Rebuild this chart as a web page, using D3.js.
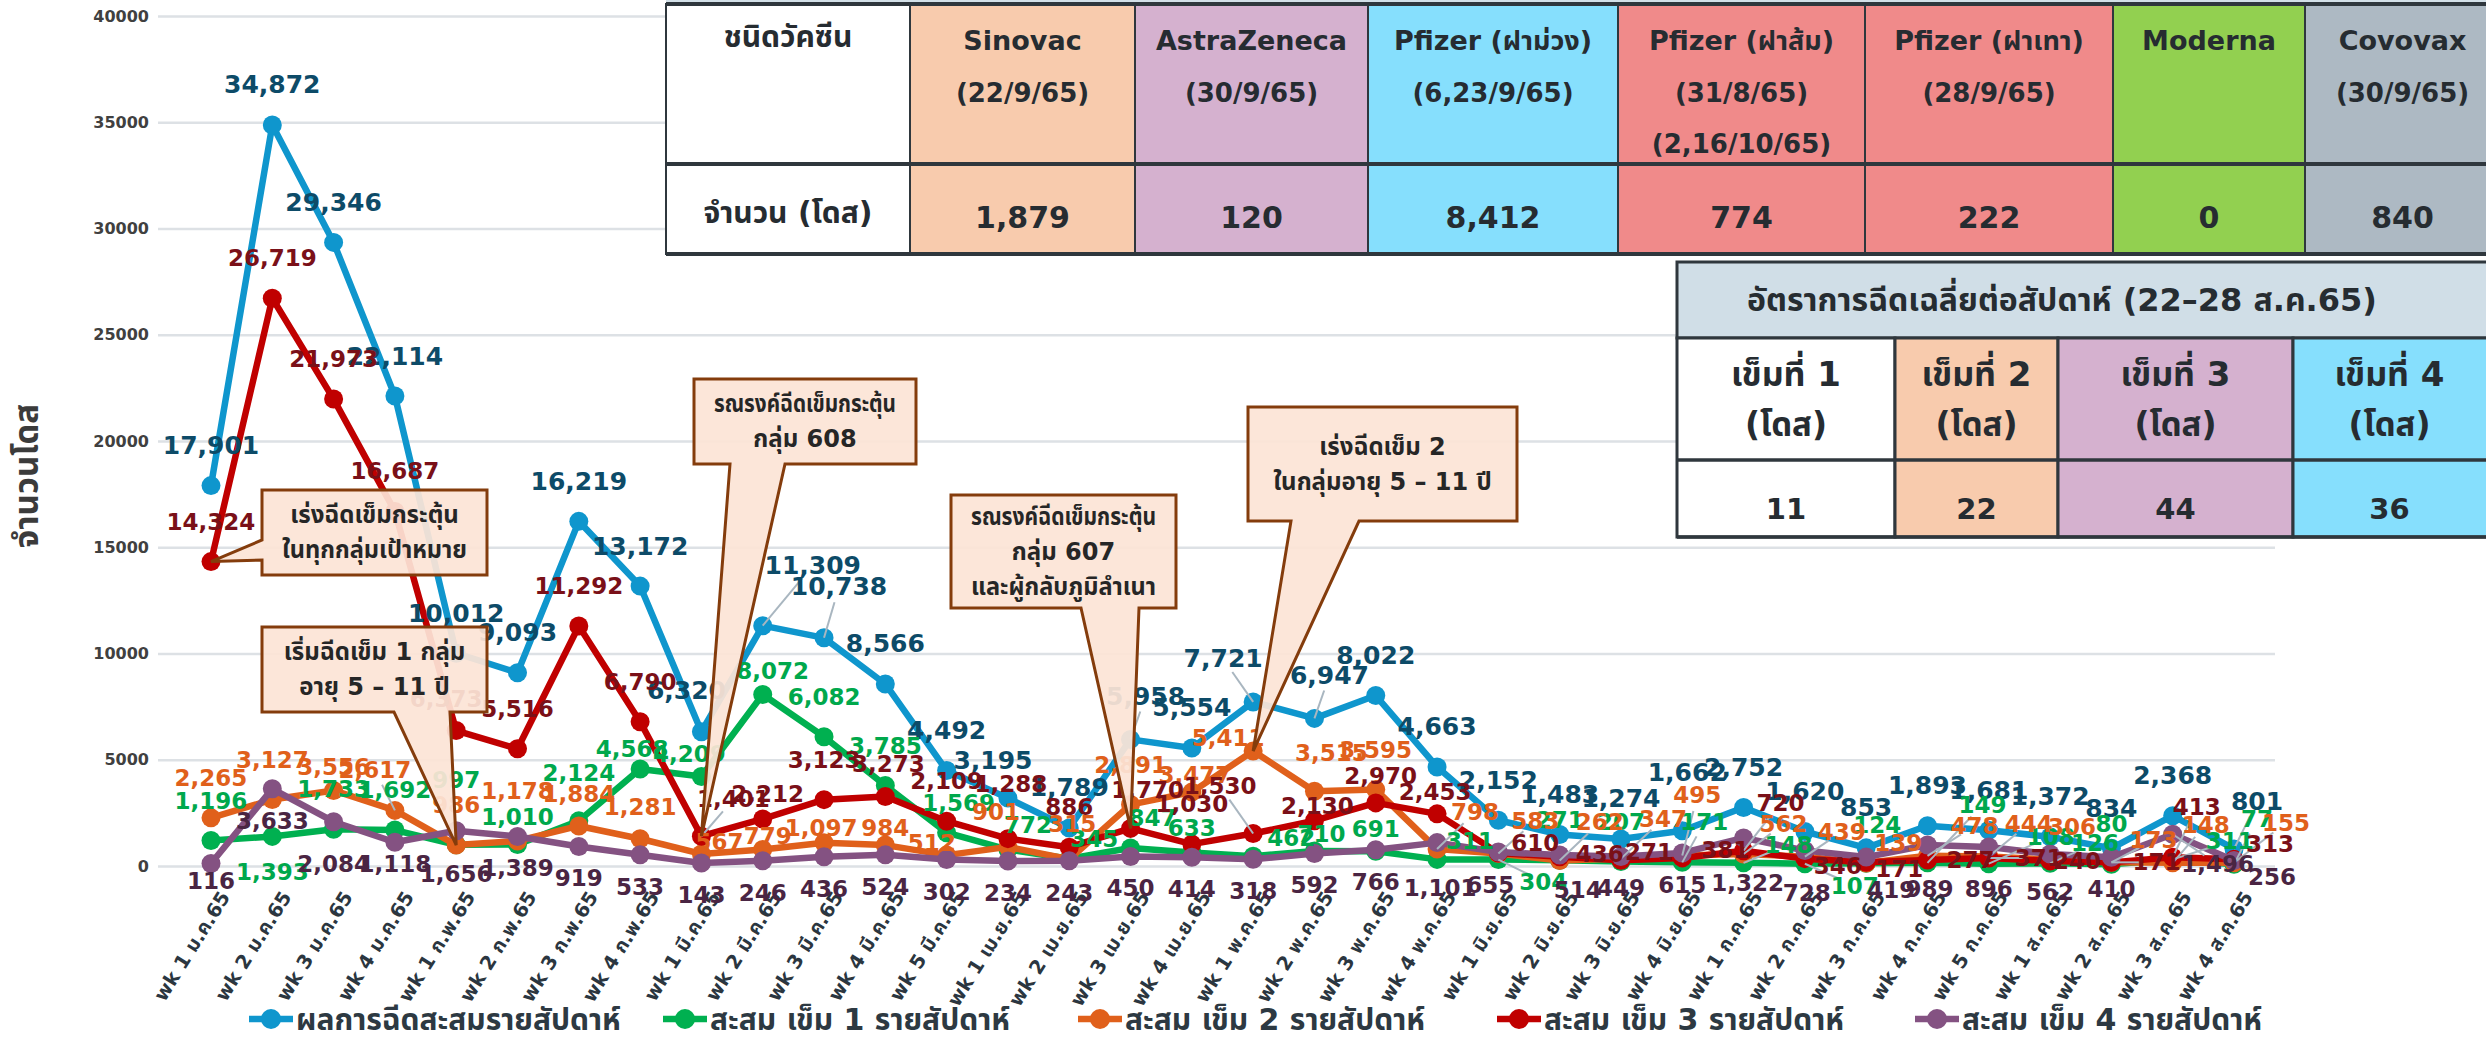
<!DOCTYPE html>
<html>
<head>
<meta charset="utf-8">
<script src="https://cdn.jsdelivr.net/npm/d3@7"></script>
<style>
  html, body { margin: 0; padding: 0; background: #fff; overflow: hidden; }
  svg { display: block; }
  text { font-family: 'DejaVu Sans', 'Noto Sans Thai', 'Noto Sans', sans-serif; font-weight: bold; }
</style>
</head>
<body>
<div id="chart-div"></div>
<script>
const WIDTH = 2486;
const HEIGHT = 1038;

// ---- data ----
const WEEKS = [
  'wk 1 ม.ค.65', 'wk 2 ม.ค.65', 'wk 3 ม.ค.65', 'wk 4 ม.ค.65',
  'wk 1 ก.พ.65', 'wk 2 ก.พ.65', 'wk 3 ก.พ.65', 'wk 4 ก.พ.65',
  'wk 1 มี.ค.65', 'wk 2 มี.ค.65', 'wk 3 มี.ค.65', 'wk 4 มี.ค.65', 'wk 5 มี.ค.65',
  'wk 1 เม.ย.65', 'wk 2 เม.ย.65', 'wk 3 เม.ย.65', 'wk 4 เม.ย.65',
  'wk 1 พ.ค.65', 'wk 2 พ.ค.65', 'wk 3 พ.ค.65', 'wk 4 พ.ค.65',
  'wk 1 มิ.ย.65', 'wk 2 มิ.ย.65', 'wk 3 มิ.ย.65', 'wk 4 มิ.ย.65',
  'wk 1 ก.ค.65', 'wk 2 ก.ค.65', 'wk 3 ก.ค.65', 'wk 4 ก.ค.65', 'wk 5 ก.ค.65',
  'wk 1 ส.ค.65', 'wk 2 ส.ค.65', 'wk 3 ส.ค.65', 'wk 4 ส.ค.65'
];

const TOTAL_WEEKLY = [17901, 34872, 29346, 22114, 10012, 9093, 16219, 13172, 6320, 11309, 10738, 8566, 4492,
  3195, 1789, 5958, 5554, 7721, 6947, 8022, 4663, 2152, 1483, 1274, 1662, 2752, 1620, 853, 1893, 1681,
  1372, 834, 2368, 801];
const DOSE1_WEEKLY = [1196, 1393, 1733, 1692, 997, 1010, 2124, 4568, 4209, 8072, 6082, 3785, 1569,
  772, 345, 847, 633, 462, 710, 691, 311, 304, 271, 207, 171, 148, 107, 124, 149, 108,
  126, 80, 311, 77];
const DOSE2_WEEKLY = [2265, 3127, 3556, 2617, 986, 1178, 1884, 1281, 567, 779, 1097, 984, 512,
  901, 315, 2891, 3477, 5411, 3515, 3595, 798, 583, 262, 347, 495, 562, 439, 139, 478, 444,
  306, 173, 148, 155];
const DOSE3_WEEKLY = [14324, 26719, 21973, 16687, 6373, 5516, 11292, 6790, 1401, 2212, 3123, 3273, 2109,
  1288, 886, 1770, 1030, 1530, 2130, 2970, 2453, 610, 436, 271, 381, 720, 346, 171, 277, 371,
  240, 171, 413, 313];
const DOSE4_WEEKLY = [116, 3633, 2084, 1118, 1656, 1389, 919, 533, 143, 246, 436, 524, 302,
  234, 243, 450, 414, 318, 592, 766, 1101, 655, 514, 449, 615, 1322, 728, 419, 989, 896,
  562, 410, 1496, 256];

const LEGEND_NAMES = [
  'ผลการฉีดสะสมรายสัปดาห์',
  'สะสม เข็ม 1 รายสัปดาห์',
  'สะสม เข็ม 2 รายสัปดาห์',
  'สะสม เข็ม 3 รายสัปดาห์',
  'สะสม เข็ม 4 รายสัปดาห์'
];

const Y_TICKS = [0, 5000, 10000, 15000, 20000, 25000, 30000, 35000, 40000];
const Y_TITLE = 'จำนวนโดส';

const VACCINE_HEAD = 'ชนิดวัคซีน';
const VACCINE_COUNT_HEAD = 'จำนวน (โดส)';
const VACCINE_NAMES = ['Sinovac', 'AstraZeneca', 'Pfizer (ฝาม่วง)', 'Pfizer (ฝาส้ม)', 'Pfizer (ฝาเทา)', 'Moderna', 'Covovax'];
const VACCINE_DATES = [['(22/9/65)'], ['(30/9/65)'], ['(6,23/9/65)'], ['(31/8/65)', '(2,16/10/65)'], ['(28/9/65)'], [], ['(30/9/65)']];
const VACCINE_DOSES = [1879, 120, 8412, 774, 222, 0, 840];

const RATE_TITLE = 'อัตราการฉีดเฉลี่ยต่อสัปดาห์ (22–28 ส.ค.65)';
const RATE_HEADS = ['เข็มที่ 1', 'เข็มที่ 2', 'เข็มที่ 3', 'เข็มที่ 4'];
const RATE_UNIT = '(โดส)';
const RATE_VALUES = [11, 22, 44, 36];

const CALLOUT_TEXTS = [
  ['เร่งฉีดเข็มกระตุ้น', 'ในทุกกลุ่มเป้าหมาย'],
  ['เริ่มฉีดเข็ม 1 กลุ่ม', 'อายุ 5 – 11 ปี'],
  ['รณรงค์ฉีดเข็มกระตุ้น', 'กลุ่ม 608'],
  ['รณรงค์ฉีดเข็มกระตุ้น', 'กลุ่ม 607', 'และผู้กลับภูมิลำเนา'],
  ['เร่งฉีดเข็ม 2', 'ในกลุ่มอายุ 5 – 11 ปี']
];

// ---- layout ----
const PLOT = { x0: 211, x1: 2234, yBottom: 866, yTop: 16, gridLeft: 158, gridRight: 2275 };
const COLORS = {
  total: { line: '#0f96cd', label: '#0d4b68' },
  dose1: { line: '#00b050', label: '#00a84c' },
  dose2: { line: '#e0601b', label: '#e0601b' },
  dose3: { line: '#c00000', label: '#7a1018' },
  dose4: { line: '#845282', label: '#4a2543' }
};

// label centre offsets from a point, [dx, dy]; anything not listed uses the series default
const LABEL_OFFSETS = {
  total: { 8: [-15, -41], 9: [50, -60], 10: [15, -51], 13: [-15, -38], 15: [15, -43], 17: [-30, -43],
    18: [15, -43], 24: [5, -58], 33: [23, -47] },
  dose1: { 1: [0, 36], 4: [0, -65], 5: [0, -28], 6: [0, -48], 7: [-8, -20], 8: [-12, -23], 9: [10, -23],
    12: [12, -30], 13: [20, -25], 14: [25, -20], 15: [22, -30], 16: [0, -25], 17: [38, -18], 18: [7, -17],
    19: [0, -22], 20: [33, -18], 21: [45, 22], 24: [22, -40], 25: [45, -18], 26: [50, 22], 27: [11, -38],
    28: [55, -58], 29: [62, -27], 30: [45, -20], 32: [57, -18], 33: [23, -45] },
  dose2: { 2: [0, -23], 3: [-20, -40], 5: [0, -50], 6: [0, -32], 7: [0, -32], 8: [18, -12], 9: [5, -13],
    10: [-3, -15], 11: [0, -17], 12: [-15, -12], 13: [-12, -35], 14: [3, -35], 16: [3, -17], 17: [-25, -13],
    18: [17, -38], 20: [38, -37], 21: [37, -33], 22: [40, -38], 23: [42, -40], 24: [15, -60], 25: [40, -30],
    26: [37, -25], 27: [32, -20], 28: [47, -30], 29: [40, -33], 30: [22, -32], 31: [42, -22], 32: [33, -38],
    33: [52, -40] },
  dose3: { 4: [-10, -32], 8: [32, -37], 9: [5, -25], 11: [3, -32], 13: [3, -55], 15: [17, -38], 17: [-33, -47],
    18: [3, -15], 19: [5, -27], 20: [-2, -22], 21: [37, -10], 22: [40, -3], 23: [28, -8], 24: [43, -8],
    25: [37, -48], 26: [33, 7], 27: [33, 7], 28: [43, 0], 29: [50, 0], 30: [27, 0], 31: [45, 0],
    32: [24, -50], 33: [36, -15] },
  dose4: { 0: [0, 17], 2: [0, 42], 3: [0, 22], 4: [0, 43], 20: [3, 45], 21: [-8, 33], 22: [18, 35],
    25: [4, 45], 26: [2, 42], 27: [25, 33], 28: [2, 44], 29: [0, 42], 30: [0, 38], 32: [45, 30], 33: [38, 16] }
};

// box [x, y, w, h], wedge base on one edge, tip on a series point
const CALLOUT_LAYOUT = [
  { box: [262, 490, 225, 85], edge: 'left', base: [540, 560], series: 'dose3', index: 0 },
  { box: [262, 627, 225, 85], edge: 'bottom', base: [394, 450], series: 'dose2', index: 4 },
  { box: [694, 379, 222, 85], edge: 'bottom', base: [730, 785], series: 'dose3', index: 8 },
  { box: [951, 495, 225, 113], edge: 'bottom', base: [1081, 1139], series: 'dose3', index: 15 },
  { box: [1248, 407, 269, 114], edge: 'bottom', base: [1291, 1359], series: 'dose2', index: 17 }
];

const TABLE1 = { cols: [666, 910, 1135, 1368, 1618, 1865, 2113, 2305, 2500], top: 4, split: 164, bottom: 254 };
const TABLE1_FILLS = ['#ffffff', '#f8cbad', '#d5b1cf', '#86dffd', '#f08a8a', '#f08a8a', '#92d050', '#adb9c3'];
const TABLE2 = { cols: [1677, 1895, 2058, 2293, 2500], top: 262, titleBottom: 338, split: 460, bottom: 537 };
const TABLE2_FILLS = ['#ffffff', '#f8cbad', '#d5b1cf', '#86dffd'];
const LEGEND_X = [271, 685, 1100, 1519, 1937];
const LEGEND_Y = 1019;

class VaccineChart {

  constructor() {
    this.series = [
      { key: 'total', values: TOTAL_WEEKLY, name: LEGEND_NAMES[0] },
      { key: 'dose1', values: DOSE1_WEEKLY, name: LEGEND_NAMES[1] },
      { key: 'dose2', values: DOSE2_WEEKLY, name: LEGEND_NAMES[2] },
      { key: 'dose3', values: DOSE3_WEEKLY, name: LEGEND_NAMES[3] },
      { key: 'dose4', values: DOSE4_WEEKLY, name: LEGEND_NAMES[4] }
    ];

    this.svg = d3.select('#chart-div')
      .append('svg')
      .attr('width', WIDTH)
      .attr('height', HEIGHT);

    this.xScale = d3.scalePoint()
      .domain(WEEKS)
      .range([PLOT.x0, PLOT.x1]);

    this.yScale = d3.scaleLinear()
      .domain([0, 40000])
      .range([PLOT.yBottom, PLOT.yTop]);

    this.drawYAxis();
    this.drawXAxis();
    this.drawLines();
    this.drawLabels();
    this.drawCallouts();
    this.drawVaccineTable();
    this.drawRateTable();
    this.drawLegend();
  }

  drawYAxis() {

    const axis = d3.axisLeft(this.yScale)
      .tickValues(Y_TICKS)
      .tickSize(-(PLOT.gridRight - PLOT.gridLeft))
      .tickPadding(9)
      .tickFormat(d3.format('d'));

    this.svg.append('g')
      .attr('transform', `translate(${PLOT.gridLeft},0)`)
      .call(axis)
      .call(g => g.select('.domain').remove())
      .call(g => g.selectAll('.tick line').attr('stroke', '#dde1e5').attr('stroke-width', 2.5))
      .call(g => g.selectAll('.tick text')
        .attr('fill', '#404040')
        .style('font-size', '16px'));

    this.svg.append('text')
      .attr('transform', 'translate(26,476) rotate(-90)')
      .attr('text-anchor', 'middle')
      .attr('dominant-baseline', 'central')
      .attr('fill', '#3b3b3b')
      .style('font-size', '33px')
      .text(Y_TITLE);

  }

  drawXAxis() {

    this.svg.append('g')
      .attr('id', 'x-labels')
      .selectAll('text')
      .data(WEEKS)
      .join('text')
      .attr('transform', d => `translate(${this.xScale(d) + 14},${PLOT.yBottom + 27}) rotate(-58)`)
      .attr('text-anchor', 'end')
      .attr('dy', '0.35em')
      .attr('fill', '#2b3640')
      .style('font-size', '19.5px')
      .text(d => d);

  }

  drawLines() {

    const line = d3.line()
      .x((d, i) => this.xScale(WEEKS[i]))
      .y(d => this.yScale(d));

    const groups = this.svg.append('g')
      .attr('id', 'series')
      .selectAll('g')
      .data(this.series)
      .join('g');

    groups.append('path')
      .attr('d', d => line(d.values))
      .attr('fill', 'none')
      .attr('stroke', d => COLORS[d.key].line)
      .attr('stroke-width', 6.5)
      .attr('stroke-linejoin', 'round');

    groups.selectAll('circle')
      .data(d => d.values.map((v, i) => ({ v, i, key: d.key })))
      .join('circle')
      .attr('cx', d => this.xScale(WEEKS[d.i]))
      .attr('cy', d => this.yScale(d.v))
      .attr('r', 9.5)
      .attr('fill', d => COLORS[d.key].line);

  }

  labelPos(key, i, v) {
    const fallback = key === 'dose4' ? [0, 32] : [0, -40];
    const [dx, dy] = (LABEL_OFFSETS[key] && LABEL_OFFSETS[key][i]) || fallback;
    const px = this.xScale(WEEKS[i]);
    const py = this.yScale(v);
    return { px, py, lx: px + dx, ly: py + dy, dx, dy };
  }

  drawLabels() {

    const labels = [];
    this.series.forEach(s => {
      s.values.forEach((v, i) => labels.push({ key: s.key, v, ...this.labelPos(s.key, i, v) }));
    });

    // grey leader lines for labels pulled away from their point
    const leaders = labels.filter(d => Math.hypot(d.dx, d.dy) > 44 && Math.abs(d.dx) > 12);
    this.svg.append('g')
      .attr('id', 'leaders')
      .selectAll('line')
      .data(leaders)
      .join('line')
      .attr('x1', d => d.px)
      .attr('y1', d => d.py)
      .attr('x2', d => { const k = (Math.hypot(d.dx, d.dy) - 16) / Math.hypot(d.dx, d.dy); return d.px + d.dx * k; })
      .attr('y2', d => { const k = (Math.hypot(d.dx, d.dy) - 16) / Math.hypot(d.dx, d.dy); return d.py + d.dy * k; })
      .attr('stroke', '#a9b6c0')
      .attr('stroke-width', 2);

    this.svg.append('g')
      .attr('id', 'data-labels')
      .selectAll('text')
      .data(labels)
      .join('text')
      .attr('x', d => d.lx)
      .attr('y', d => d.ly)
      .attr('text-anchor', 'middle')
      .attr('dominant-baseline', 'central')
      .attr('fill', d => COLORS[d.key].label)
      .style('font-size', d => d.key === 'total' ? '25px' : '23px')
      .text(d => d3.format(',')(d.v));

  }

  calloutPath(c, tip) {
    const [x, y, w, h] = c.box;
    const [b1, b2] = c.base;
    if (c.edge === 'left') {
      return `M${x},${y}H${x + w}V${y + h}H${x}V${b2}L${tip[0]},${tip[1]}L${x},${b1}Z`;
    }
    return `M${x},${y}H${x + w}V${y + h}H${b2}L${tip[0]},${tip[1]}L${b1},${y + h}H${x}Z`;
  }

  drawCallouts() {

    const seriesByKey = {};
    this.series.forEach(s => { seriesByKey[s.key] = s; });

    const g = this.svg.append('g')
      .attr('id', 'callouts')
      .selectAll('g')
      .data(CALLOUT_LAYOUT)
      .join('g');

    g.append('path')
      .attr('d', c => {
        const v = seriesByKey[c.series].values[c.index];
        return this.calloutPath(c, [this.xScale(WEEKS[c.index]), this.yScale(v)]);
      })
      .attr('fill', '#fce4d6')
      .attr('fill-opacity', 0.93)
      .attr('stroke', '#843c0c')
      .attr('stroke-width', 3)
      .attr('stroke-linejoin', 'miter');

    g.each(function (c, ci) {
      const lines = CALLOUT_TEXTS[ci];
      const [x, y, w, h] = c.box;
      const step = 35;
      const start = y + h / 2 - (lines.length - 1) * step / 2;
      d3.select(this).selectAll('text')
        .data(lines)
        .join('text')
        .attr('x', x + w / 2)
        .attr('y', (d, i) => start + i * step)
        .attr('text-anchor', 'middle')
        .attr('dominant-baseline', 'central')
        .attr('fill', '#262626')
        .style('font-size', '24px')
        .text(d => d)
        .each(function () {
          // squeeze lines that are wider than the box, as the narrow source font would be
          const maxW = w - 40;
          if (this.getComputedTextLength() > maxW) {
            d3.select(this).attr('textLength', maxW).attr('lengthAdjust', 'spacingAndGlyphs');
          }
        });
    });

  }

  drawVaccineTable() {

    const t = TABLE1;
    const g = this.svg.append('g').attr('id', 'vaccine-table');

    g.append('rect')
      .attr('x', t.cols[0])
      .attr('y', -40)
      .attr('width', t.cols[t.cols.length - 1] - t.cols[0])
      .attr('height', 44)
      .attr('fill', '#d3e0e8');

    const cells = TABLE1_FILLS.map((fill, i) => ({ fill, x0: t.cols[i], x1: t.cols[i + 1] }));

    g.selectAll('rect.cell')
      .data(cells)
      .join('rect')
      .attr('class', 'cell')
      .attr('x', d => d.x0)
      .attr('y', t.top)
      .attr('width', d => d.x1 - d.x0)
      .attr('height', t.bottom - t.top)
      .attr('fill', d => d.fill)
      .attr('stroke', '#2f373d')
      .attr('stroke-width', 2);

    [t.top, t.split, t.bottom].forEach(yy => {
      g.append('line')
        .attr('x1', t.cols[0]).attr('x2', t.cols[t.cols.length - 1])
        .attr('y1', yy).attr('y2', yy)
        .attr('stroke', '#2f373d').attr('stroke-width', 4);
    });

    const text = (x, y, s, size) => g.append('text')
      .attr('x', x).attr('y', y)
      .attr('text-anchor', 'middle')
      .attr('dominant-baseline', 'central')
      .attr('fill', '#262c31')
      .style('font-size', size)
      .text(s);

    text((t.cols[0] + t.cols[1]) / 2, 36, VACCINE_HEAD, '30px');
    text((t.cols[0] + t.cols[1]) / 2, 212, VACCINE_COUNT_HEAD, '30px');

    VACCINE_NAMES.forEach((name, i) => {
      const cx = (t.cols[i + 1] + t.cols[i + 2]) / 2;
      text(cx, 40, name, '27px');
      VACCINE_DATES[i].forEach((d, j) => text(cx, 93 + j * 51, d, '26px'));
      text(cx, 217, d3.format(',')(VACCINE_DOSES[i]), '30px');
    });

  }

  drawRateTable() {

    const t = TABLE2;
    const g = this.svg.append('g').attr('id', 'rate-table');
    const x0 = t.cols[0];
    const x1 = t.cols[t.cols.length - 1];

    g.append('rect')
      .attr('x', x0).attr('y', t.top)
      .attr('width', x1 - x0).attr('height', t.titleBottom - t.top)
      .attr('fill', '#d0dee7')
      .attr('stroke', '#2f373d').attr('stroke-width', 3);

    const cells = TABLE2_FILLS.map((fill, i) => ({ fill, x0: t.cols[i], x1: t.cols[i + 1] }));

    g.selectAll('rect.cell')
      .data(cells)
      .join('rect')
      .attr('class', 'cell')
      .attr('x', d => d.x0)
      .attr('y', t.titleBottom)
      .attr('width', d => d.x1 - d.x0)
      .attr('height', t.bottom - t.titleBottom)
      .attr('fill', d => d.fill)
      .attr('stroke', '#2f373d')
      .attr('stroke-width', 3);

    [t.split, t.bottom].forEach(yy => {
      g.append('line')
        .attr('x1', x0).attr('x2', x1)
        .attr('y1', yy).attr('y2', yy)
        .attr('stroke', '#2f373d').attr('stroke-width', 3.5);
    });

    const text = (x, y, s, size) => g.append('text')
      .attr('x', x).attr('y', y)
      .attr('text-anchor', 'middle')
      .attr('dominant-baseline', 'central')
      .attr('fill', '#262c31')
      .style('font-size', size)
      .text(s);

    text(2062, (t.top + t.titleBottom) / 2, RATE_TITLE, '32px');

    RATE_HEADS.forEach((head, i) => {
      const cx = (cells[i].x0 + Math.min(cells[i].x1, 2486)) / 2;
      text(cx, 374, head, '34px');
      text(cx, 424, RATE_UNIT, '33px');
      text(cx, 509, RATE_VALUES[i], '29px');
    });

  }

  drawLegend() {

    const items = this.svg.append('g')
      .attr('id', 'legend')
      .selectAll('g')
      .data(this.series)
      .join('g')
      .attr('transform', (d, i) => `translate(${LEGEND_X[i]},${LEGEND_Y})`);

    items.append('line')
      .attr('x1', -22).attr('x2', 22)
      .attr('stroke', d => COLORS[d.key].line)
      .attr('stroke-width', 6.5);

    items.append('circle')
      .attr('r', 10)
      .attr('fill', d => COLORS[d.key].line);

    items.append('text')
      .attr('x', 25)
      .attr('dominant-baseline', 'central')
      .attr('fill', '#2d3942')
      .style('font-size', '30px')
      .text(d => d.name);

  }

}

new VaccineChart();
</script>
</body>
</html>
